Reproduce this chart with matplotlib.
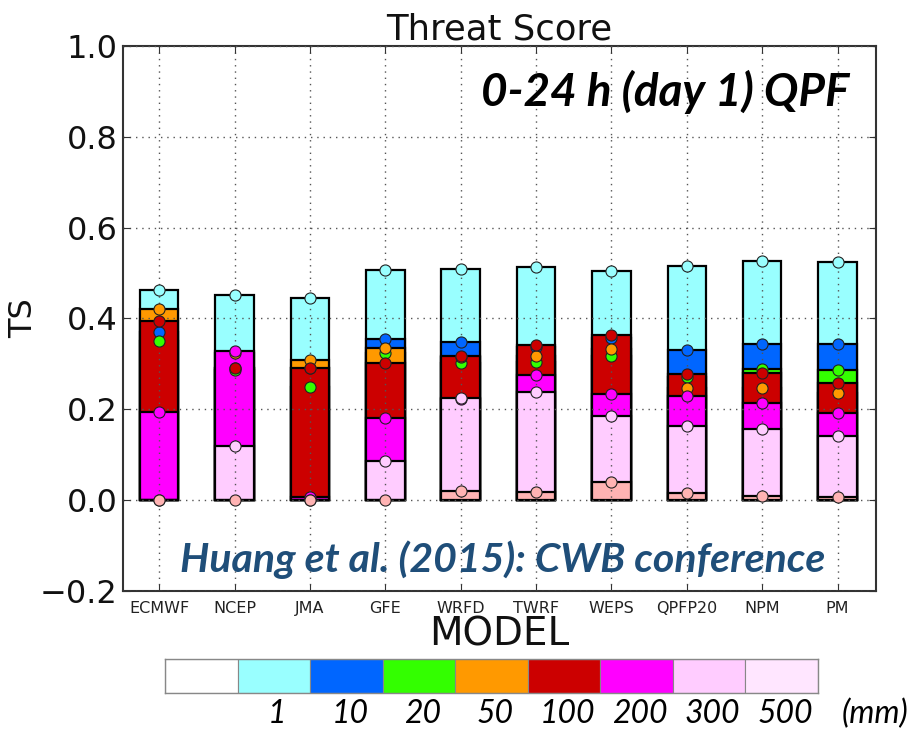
import matplotlib
matplotlib.use("Agg")
import matplotlib.pyplot as plt
import numpy as np

models = ["ECMWF", "NCEP", "JMA", "GFE", "WRFD", "TWRF", "WEPS", "QPFP20", "NPM", "PM"]
thresholds = ["1", "10", "20", "50", "100", "200", "300", "500"]

ts_1mm   = [0.463, 0.451, 0.446, 0.507, 0.510, 0.514, 0.505, 0.516, 0.527, 0.525]
ts_10mm  = [0.371, 0.290, 0.290, 0.355, 0.348, 0.338, 0.356, 0.331, 0.343, 0.343]
ts_20mm  = [0.351, 0.287, 0.250, 0.323, 0.303, 0.304, 0.318, 0.272, 0.288, 0.286]
ts_50mm  = [0.420, 0.324, 0.308, 0.336, 0.315, 0.318, 0.333, 0.246, 0.248, 0.236]
ts_100mm = [0.395, 0.292, 0.290, 0.302, 0.318, 0.341, 0.363, 0.278, 0.279, 0.258]
ts_200mm = [0.194, 0.328, 0.008, 0.180, 0.222, 0.276, 0.234, 0.229, 0.213, 0.193]
ts_300mm = [0.000, 0.119, 0.000, 0.087, 0.226, 0.239, 0.186, 0.164, 0.157, 0.141]
ts_500mm = [0.000, 0.000, 0.000, 0.000, 0.021, 0.018, 0.039, 0.015, 0.009, 0.007]
series = [ts_1mm, ts_10mm, ts_20mm, ts_50mm, ts_100mm, ts_200mm, ts_300mm, ts_500mm]

bar_colors = ["#99ffff", "#0066ff", "#33ff00", "#ff9900", "#cc0000", "#ff00ff", "#ffccff", "#ffb3b3"]
cbar_colors = ["#ffffff", "#99ffff", "#0066ff", "#33ff00", "#ff9900", "#cc0000", "#ff00ff", "#ffccff", "#ffe6ff"]

fig = plt.figure(figsize=(9.13, 7.32), dpi=100)
ax = fig.add_axes([0.1347, 0.1926, 0.8248, 0.7446])

x = np.arange(len(models))
for vals, c in zip(series, bar_colors):
    ax.bar(x, vals, width=0.51, color=c, edgecolor="black", linewidth=1.6, zorder=1)
for vals, c in zip(series, bar_colors):
    ax.plot(x, vals, linestyle="none", marker="o", markersize=8, markerfacecolor=c,
            markeredgecolor="#222222", markeredgewidth=0.8, zorder=3)

ax.set_xlim(-0.48, 9.51)
ax.set_ylim(-0.2, 1.0)
ax.set_yticks([-0.2, 0.0, 0.2, 0.4, 0.6, 0.8, 1.0])
ax.set_yticklabels(["\u22120.2", "0.0", "0.2", "0.4", "0.6", "0.8", "1.0"])
ax.set_xticks(x)
ax.set_xticklabels(models, fontsize=11.5, color="#222222")
ax.tick_params(axis="y", labelsize=23, direction="in", right=True, length=5, colors="#333333",
               labelcolor="#111111", pad=4)
ax.tick_params(axis="x", direction="in", top=True, length=5, colors="#333333", labelcolor="#222222", pad=7)
ax.set_axisbelow(False)
ax.grid(True, linestyle=(0, (1, 3.5)), color="#555555", linewidth=1.0)
for s in ax.spines.values():
    s.set_color("#333333")
    s.set_linewidth(1.5)

ax.set_title("Threat Score", fontsize=25.5, pad=5, color="#111111")
ax.set_ylabel("TS", fontsize=23, color="#111111")
ax.yaxis.set_label_coords(-0.112, 0.5)
ax.set_xlabel("MODEL", fontsize=28, labelpad=0, color="#111111")

ax.text(0.965, 0.915, "0-24 h (day 1) QPF", transform=ax.transAxes, ha="right", va="center",
        fontsize=33, fontweight="bold", fontstyle="italic", family=["Lato", "DejaVu Sans"], color="black")
ax.text(0.504, 0.057, "Huang et al. (2015): CWB conference", transform=ax.transAxes, ha="center", va="center",
        fontsize=29.5, fontweight="bold", fontstyle="italic", family=["Lato", "DejaVu Sans"], color="#1f4e79")

cax = fig.add_axes([0.1807, 0.0533, 0.7152, 0.0464])
cx = np.arange(len(cbar_colors))
cax.bar(cx, [1] * len(cbar_colors), width=1.0, color=cbar_colors, edgecolor="#888888", linewidth=0.8, align="center")
cax.set_xlim(-0.5, len(cbar_colors) - 0.5)
cax.set_ylim(0, 1)
cax.set_xticks([])
cax.set_yticks([])
for s in cax.spines.values():
    s.set_color("#888888")
    s.set_linewidth(1.0)
for i, lab in enumerate(thresholds):
    cax.text(i + 1.05, -0.62, lab, ha="center", va="center", fontsize=23, fontstyle="italic",
             family=["Lato", "DejaVu Sans"], clip_on=False)
cax.text(len(cbar_colors) + 0.28, -0.62, "(mm)", ha="center", va="center", fontsize=23, fontstyle="italic",
         family=["Lato", "DejaVu Sans"], clip_on=False)

fig.savefig("out.png", dpi=100)
